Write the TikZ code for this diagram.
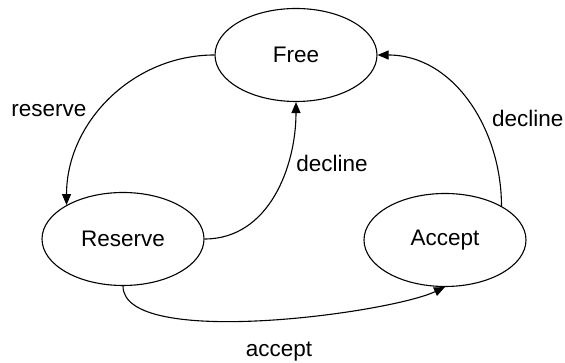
\documentclass[tikz,border=0pt]{standalone}
\usepackage{fontspec}
\setmainfont{Liberation Sans}
\usetikzlibrary{shapes,shapes.geometric,arrows.meta,positioning}

\begin{document}
\begin{tikzpicture}[x=1pt, y=1pt, line width=1.1pt,
    every node/.style={font=\fontsize{22.5}{27}\selectfont},
    state/.style={ellipse, draw, minimum width=162pt, minimum height=93pt, inner sep=0pt},
    trans/.style={-{Triangle[length=11pt,width=9pt]}},
    lbl/.style={anchor=base, inner sep=0pt}]
\useasboundingbox (0,0) rectangle (565,363);
% states
\node[state] (free) at (296,308) {Free};
\node[state] (reserve) at (123,124) {Reserve};
\node[state] (accept) at (445,123) {Accept};
% transitions
\draw[trans] (free.west) to[out=180,in=90] (reserve.149);
\draw[trans] (reserve.east) to[out=0,in=-90] (free.south);
\draw[trans] (accept.31) to[out=90,in=0] (free.east);
\draw[trans] (reserve.south) to[out=-90,in=-155,looseness=0.5] (accept.south);
% labels
\node[lbl] (lreserve) at (49,246) {reserve};
\node[lbl] (ldecline) at (332,191) {decline};
\node[lbl, anchor=base east] (ldeclinetwo) at (564,236) {decline};
\node[lbl] (laccept) at (279,6) {accept};
\end{tikzpicture}
\end{document}
